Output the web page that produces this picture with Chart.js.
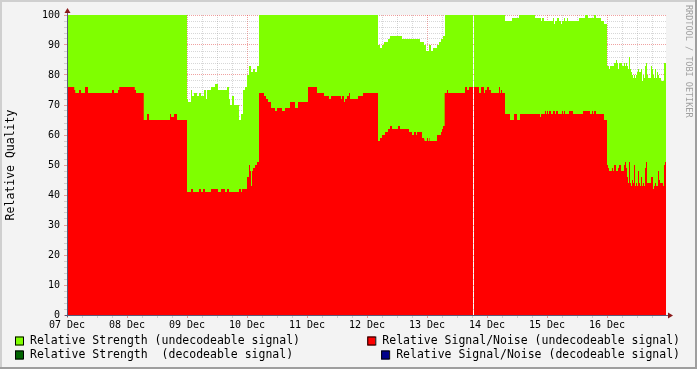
<!DOCTYPE html>
<html>
<head>
<meta charset="utf-8">
<script src="https://cdn.jsdelivr.net/npm/chart.js@4.4.1/dist/chart.umd.min.js"></script>
<style>
html, body { margin: 0; padding: 0; background: #f3f3f3; }
canvas { display: block; }
</style>
</head>
<body>
<canvas id="myChart" width="697" height="369"></canvas>
<script>
// time axis: hours since 07 Dec 00:00; each [hour, value] holds until the next step
const dayLabels = ['07 Dec', '08 Dec', '09 Dec', '10 Dec', '11 Dec', '12 Dec', '13 Dec', '14 Dec', '15 Dec', '16 Dec'];
const endHour = 239.6;

const strengthSteps = [
    [0, 100], [48, 72], [48.4, 71], [49.6, 75], [50, 73], [50.8, 74], [52, 73], [52.8, 74], [53.6, 73], [54.8, 75],
    [55.6, 72], [56, 75], [57.6, 76], [59.2, 77], [60.4, 75], [64, 76], [64.8, 72], [65.2, 70], [66, 73], [66.8, 70],
    [68.8, 65], [69.6, 67], [70.4, 75], [71.2, 76], [72, 80], [72.8, 83], [73.6, 81], [74.4, 82], [75.2, 81], [76, 83],
    [76.8, 100], [124.4, 90], [125.2, 89], [126, 90], [126.8, 91], [128.4, 92], [129.2, 93], [134, 92], [141.2, 91], [142.8, 90],
    [143.6, 88], [144.8, 90], [145.6, 88], [146.4, 89], [148, 90], [148.8, 91], [149.6, 92], [150.4, 93], [151.2, 100],
    [162.4, 100], [162.45, null], [162.8, 100],
    [175.2, 98], [178, 99], [180.8, 100], [187.2, 99], [189.6, 98], [190, 99], [190.8, 98], [194.4, 99], [194.8, 97], [195.2, 98],
    [196, 99], [196.8, 98], [197.6, 97], [198, 98], [198.8, 99], [199.2, 98], [200, 99], [200.4, 98], [204.8, 99], [207.2, 100],
    [208.4, 99], [210.8, 100], [211.6, 99], [213.6, 98], [214.8, 97], [216, 83], [216.8, 82], [217.2, 83], [218.8, 84], [219.6, 85],
    [220, 84], [220.4, 82], [220.8, 84], [222, 83], [222.8, 84], [223.2, 83], [223.6, 84], [224, 83], [224.4, 82], [224.8, 86],
    [225.2, 82], [225.6, 81], [226, 80], [226.4, 79], [226.8, 80], [227.2, 79], [227.6, 80], [228, 81], [228.4, 82], [228.8, 81],
    [229.6, 82], [230, 78], [230.4, 80], [230.8, 79], [231.2, 83], [231.6, 84], [232, 80], [232.4, 79], [233.6, 83], [234, 82],
    [234.4, 80], [234.8, 79], [235.2, 82], [235.6, 79], [236, 81], [236.4, 80], [236.8, 79], [237.6, 78], [238.8, 84], [239.6, 84]
];

const snrSteps = [
    [0, 76], [2.9, 75], [3.3, 74], [4.8, 75], [5.6, 74], [7.2, 76], [8.4, 74], [18, 75], [18.8, 74], [20.4, 75],
    [20.9, 76], [27.1, 75], [27.6, 74], [30.7, 65], [32, 67], [32.8, 65], [41.2, 67], [41.6, 66], [42.8, 67], [44, 65],
    [48, 41], [49.6, 42], [50.4, 41], [52.8, 42], [53.6, 41], [54.4, 42], [55.2, 41], [57.6, 42], [60.4, 41], [61.6, 42],
    [63.2, 41], [64, 42], [64.8, 41], [68.8, 42], [69.6, 41], [70, 42], [72, 46], [72.8, 50], [73.2, 48], [73.6, 43],
    [74, 48], [74.4, 49], [75.2, 50], [76, 51], [76.8, 74], [78.8, 73], [79.6, 72], [80.4, 71], [81.6, 69], [83.2, 68],
    [84, 69], [86, 68], [87.2, 69], [89.2, 71], [91.2, 69], [92.4, 71], [96.4, 76], [100, 74], [102.8, 73], [104.8, 72],
    [105.6, 73], [109.6, 72], [110, 73], [110.8, 71], [111.2, 72], [112, 73], [112.8, 74], [113.2, 72], [116.4, 73], [118.4, 74],
    [124.4, 58], [125.2, 59], [126, 60], [127.2, 61], [128.4, 62], [129.2, 63], [130, 62], [132.4, 63], [133.2, 62], [136.8, 61],
    [138, 60], [138.8, 61], [139.6, 60], [140, 61], [142, 59], [142.8, 60], [143.2, 58], [144, 59], [144.4, 58], [145, 59],
    [145.2, 58], [148, 60], [149.6, 61], [150, 62], [150.4, 63], [150.8, 64], [151.2, 74], [152, 75], [152.4, 74], [159.2, 76],
    [160, 75], [160.8, 76], [162.4, 76], [162.45, null], [162.8, 76],
    [164.8, 74], [165.6, 76], [166.8, 74], [167.2, 75], [168, 76], [168.8, 75], [169.6, 74], [172.8, 76], [173.2, 74], [173.6, 75],
    [174, 74], [175.2, 67], [177.2, 65], [178.8, 67], [180, 65], [181.2, 67], [189.2, 66], [189.6, 67], [191.2, 68], [191.6, 67],
    [192, 68], [192.4, 67], [192.8, 68], [193.6, 67], [194.4, 68], [195.2, 67], [195.6, 68], [196.4, 67], [198, 68], [198.4, 67],
    [198.8, 68], [199.2, 67], [200.8, 68], [202.4, 67], [206.4, 68], [209.2, 67], [210, 68], [210.4, 67], [210.8, 68], [211.6, 67],
    [214.8, 65], [216, 50], [216.4, 49], [216.8, 48], [218, 49], [218.4, 48], [218.8, 50], [219.6, 48], [220.4, 49], [220.8, 50],
    [221.6, 48], [222.8, 50], [223.2, 51], [223.6, 49], [224, 46], [224.4, 44], [224.8, 51], [225.2, 44], [225.6, 43], [226, 45],
    [226.4, 44], [226.8, 50], [227.2, 43], [227.6, 44], [228, 43], [228.4, 48], [228.8, 44], [229.2, 43], [229.6, 46], [230, 43],
    [230.4, 44], [230.8, 43], [231.2, 49], [231.6, 51], [232, 44], [233.6, 46], [234.4, 42], [234.8, 43], [235.2, 44], [235.6, 43],
    [236.4, 48], [236.8, 45], [237.2, 44], [238.4, 43], [238.8, 50], [239.2, 51], [239.6, 51]
];

const legendLabels = [
    'Relative Strength (undecodeable signal)',
    'Relative Signal/Noise (undecodeable signal)',
    'Relative Strength  (decodeable signal)',
    'Relative Signal/Noise (decodeable signal)'
];
const legendColors = ['#7fff00', '#ff0000', '#006400', '#00008b'];

const monoFont = 'DejaVu Sans Mono';
const minorGrid = 'rgba(140, 140, 140, 0.35)';
const majorGrid = 'rgba(222, 48, 47, 0.45)';

// expand the steps into points with vertical edges (value holds until next step)
function toPoints(steps) {
    const pts = [];
    steps.forEach((s, i) => {
        const next = steps[i + 1];
        pts.push({ x: s[0], y: s[1] });
        if (next && s[1] !== null) {
            pts.push({ x: next[0], y: s[1] });
        }
    });
    return pts;
}

// background, canvas, axes with arrows, watermark and the 2-column legend
const rrdLook = {
    id: 'rrdLook',
    beforeDraw(chart) {
        const { ctx, width, height, chartArea: a } = chart;
        ctx.save();
        ctx.fillStyle = '#f3f3f3';
        ctx.fillRect(0, 0, width, height);
        ctx.fillStyle = '#cfcfcf';
        ctx.fillRect(0, 0, width, 2);
        ctx.fillRect(0, 0, 2, height);
        ctx.fillStyle = '#9e9e9e';
        ctx.fillRect(0, height - 2, width, 2);
        ctx.fillRect(width - 2, 0, 2, height);
        ctx.fillStyle = '#ffffff';
        ctx.fillRect(a.left, a.top, a.right - a.left, a.bottom - a.top);
        ctx.restore();
    },
    afterDraw(chart) {
        const { ctx, width, chartArea: a } = chart;
        ctx.save();
        // axes
        ctx.strokeStyle = '#5a5a78';
        ctx.lineWidth = 1;
        ctx.beginPath();
        ctx.moveTo(a.left + 0.5, a.bottom + 2);
        ctx.lineTo(a.left + 0.5, a.top - 3);
        ctx.moveTo(a.left - 2, a.bottom + 0.5);
        ctx.lineTo(a.right + 3, a.bottom + 0.5);
        ctx.stroke();
        ctx.fillStyle = '#8b1a1a';
        ctx.beginPath();
        ctx.moveTo(a.left + 0.5, a.top - 7);
        ctx.lineTo(a.left - 2.5, a.top - 2);
        ctx.lineTo(a.left + 3.5, a.top - 2);
        ctx.fill();
        ctx.beginPath();
        ctx.moveTo(a.right + 7, a.bottom + 0.5);
        ctx.lineTo(a.right + 2, a.bottom - 2.5);
        ctx.lineTo(a.right + 2, a.bottom + 3.5);
        ctx.fill();

        // watermark
        ctx.save();
        ctx.translate(width - 9, 5);
        ctx.rotate(Math.PI / 2);
        ctx.font = '8.5px "' + monoFont + '"';
        ctx.fillStyle = '#a0a0a0';
        ctx.textBaseline = 'middle';
        ctx.textAlign = 'left';
        ctx.fillText('RRDTOOL / TOBI OETIKER', 0, 0);
        ctx.restore();

        // legend
        ctx.font = '11.5px "' + monoFont + '"';
        ctx.textBaseline = 'middle';
        const rows = [341, 355];
        legendLabels.forEach((label, i) => {
            const y = rows[Math.floor(i / 2)];
            const tx = i % 2 === 0 ? 30 : width - 17 - ctx.measureText(label).width;
            ctx.fillStyle = legendColors[i];
            ctx.fillRect(tx - 15, y - 4.5, 8, 9);
            ctx.strokeStyle = '#000';
            ctx.strokeRect(tx - 15 + 0.5, y - 4.5 + 0.5, 8, 8);
            ctx.fillStyle = '#000';
            ctx.fillText(label, tx, y + 0.5);
        });
        ctx.restore();
    }
};

const ctx = document.getElementById('myChart').getContext('2d');
new Chart(ctx, {
    type: 'line',
    data: {
        datasets: [{
            label: legendLabels[1],
            data: toPoints(snrSteps),
            fill: 'origin',
            backgroundColor: legendColors[1],
            borderColor: 'rgba(0,0,0,0)',
            borderWidth: 0,
            pointRadius: 0,
            tension: 0,
            spanGaps: false
        }, {
            label: legendLabels[0],
            data: toPoints(strengthSteps),
            fill: 'origin',
            backgroundColor: legendColors[0],
            borderColor: 'rgba(0,0,0,0)',
            borderWidth: 0,
            pointRadius: 0,
            tension: 0,
            spanGaps: false
        }]
    },
    options: {
        responsive: false,
        animation: false,
        layout: { padding: { top: 15, right: 31, left: 0, bottom: 0 } },
        plugins: {
            legend: { display: false },
            tooltip: { enabled: false }
        },
        scales: {
            x: {
                type: 'linear',
                min: 0,
                max: endHour,
                z: 1,
                border: { display: false, dash: [1, 1] },
                grid: {
                    color: c => (c.tick && c.tick.value % 24 === 0) ? majorGrid : minorGrid,
                    tickLength: 3
                },
                ticks: {
                    stepSize: 6,
                    includeBounds: false,
                    autoSkip: false,
                    maxRotation: 0,
                    minRotation: 0,
                    padding: 1,
                    color: '#000',
                    font: { family: monoFont, size: 10 },
                    callback: v => v % 24 === 0 ? dayLabels[v / 24] : ''
                },
                afterFit: s => { s.height = 54; }
            },
            y: {
                min: 0,
                max: 100,
                z: 1,
                border: { display: false, dash: [1, 1] },
                grid: {
                    color: c => (c.tick && c.tick.value % 10 === 0) ? majorGrid : minorGrid,
                    tickLength: 3
                },
                ticks: {
                    stepSize: 2,
                    autoSkip: false,
                    padding: 4,
                    color: '#000',
                    font: { family: monoFont, size: 10 },
                    callback: v => v % 10 === 0 ? String(v) : ''
                },
                title: {
                    display: true,
                    text: 'Relative Quality',
                    color: '#000',
                    font: { family: monoFont, size: 11.5 },
                    padding: { top: 4, bottom: 0 }
                },
                afterFit: s => { s.width = 67; }
            }
        }
    },
    plugins: [rrdLook]
});
</script>
</body>
</html>
